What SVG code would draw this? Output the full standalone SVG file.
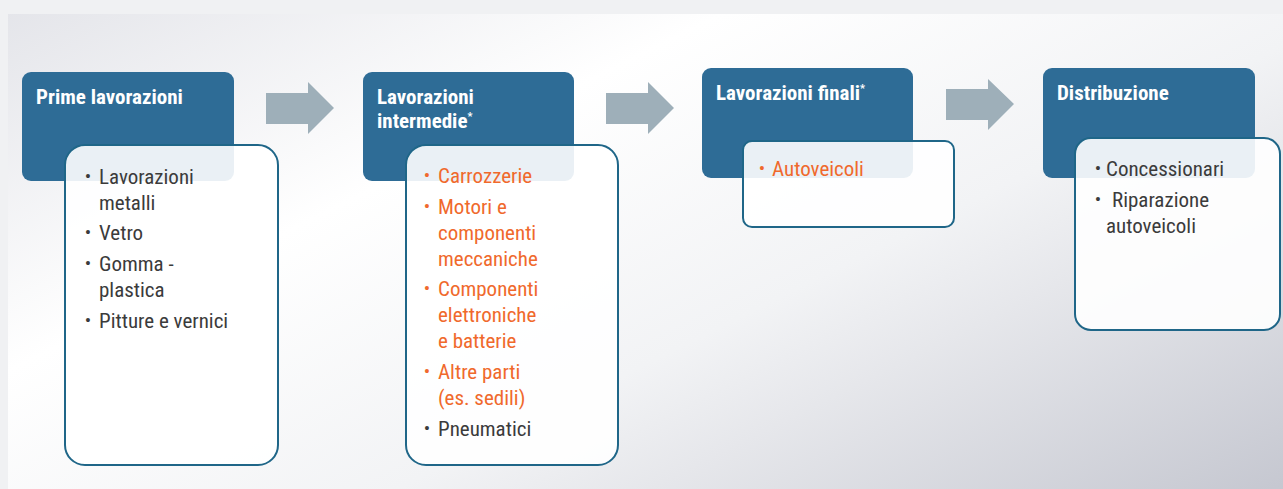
<svg xmlns="http://www.w3.org/2000/svg" width="1283" height="489" viewBox="0 0 1283 489">
<defs>
<linearGradient id="bg" gradientUnits="userSpaceOnUse" x1="200" y1="-100" x2="700" y2="900">
<stop offset="0" stop-color="#e3e4e9"/>
<stop offset="0.3" stop-color="#ffffff"/>
<stop offset="0.55" stop-color="#f2f3f5"/>
<stop offset="0.65" stop-color="#e6e7eb"/>
<stop offset="0.9" stop-color="#c6c8d1"/>
<stop offset="1" stop-color="#c0c2cc"/>
</linearGradient>
<style>
.hdr{fill:#2e6c96}
.card{fill:#ffffff;fill-opacity:0.9;stroke:#1f6688;stroke-width:2}
.arr{fill:#9eafb9}
.ht{font-family:Roboto,"Liberation Sans",sans-serif;font-weight:bold;font-size:21px;fill:#ffffff;font-stretch:condensed}
.sup{font-size:11px}
.bt{font-family:Roboto,"Liberation Sans",sans-serif;font-size:21px;fill:#3b3b3b;font-stretch:condensed}
.bu{font-size:19px;text-anchor:middle}
.or{fill:#f0692c}
</style>
</defs>
<rect x="0" y="0" width="1283" height="489" fill="#f0f1f3"/>
<rect x="8" y="14" width="1275" height="475" fill="url(#bg)"/>
<g id="connectors">
<path class="arr" d="M266,93 H308 V82 L334,108 L308,134 V124 H266 Z"/>
<path class="arr" d="M606,93 H648 V82 L674,108 L648,134 V124 H606 Z"/>
<path class="arr" d="M946,89 H988 V79 L1014,104 L988,130 V120 H946 Z"/>
</g>
<g id="node1">
<rect class="hdr" x="22" y="72" width="212" height="109" rx="9"/>
<text class="ht" x="36" y="104">Prime lavorazioni</text>
<rect class="card" x="65" y="145" width="213" height="320" rx="20"/>
<text class="bt"><tspan class="bu" x="88" y="183">•</tspan><tspan x="99" y="184">Lavorazioni</tspan><tspan x="99" y="210">metalli</tspan><tspan class="bu" x="88" y="239">•</tspan><tspan x="99" y="240">Vetro</tspan><tspan class="bu" x="88" y="270">•</tspan><tspan x="99" y="271">Gomma -</tspan><tspan x="99" y="297">plastica</tspan><tspan class="bu" x="88" y="327">•</tspan><tspan x="99" y="328">Pitture e vernici</tspan></text>
</g>
<g id="node2">
<rect class="hdr" x="363" y="72" width="211" height="109" rx="9"/>
<text class="ht"><tspan x="377" y="104">Lavorazioni</tspan><tspan x="377" y="128">intermedie</tspan><tspan class="sup" dy="-8">*</tspan></text>
<rect class="card" x="406" y="145" width="212" height="320" rx="20"/>
<text class="bt or"><tspan class="bu" x="427" y="182">•</tspan><tspan x="438" y="183">Carrozzerie</tspan><tspan class="bu" x="427" y="213">•</tspan><tspan x="438" y="214">Motori e</tspan><tspan x="438" y="240">componenti</tspan><tspan x="438" y="266">meccaniche</tspan><tspan class="bu" x="427" y="295">•</tspan><tspan x="438" y="296">Componenti</tspan><tspan x="438" y="322">elettroniche</tspan><tspan x="438" y="348">e batterie</tspan><tspan class="bu" x="427" y="378">•</tspan><tspan x="438" y="379">Altre parti</tspan><tspan x="438" y="405">(es. sedili)</tspan></text>
<text class="bt"><tspan class="bu" x="427" y="435">•</tspan><tspan x="438" y="436">Pneumatici</tspan></text>
</g>
<g id="node3">
<rect class="hdr" x="702" y="68" width="211" height="110" rx="9"/>
<text class="ht"><tspan x="716" y="100">Lavorazioni finali</tspan><tspan class="sup" dy="-8">*</tspan></text>
<rect class="card" x="743" y="141" width="211" height="86" rx="9"/>
<text class="bt or"><tspan class="bu" x="762" y="175">•</tspan><tspan x="772" y="176">Autoveicoli</tspan></text>
</g>
<g id="node4">
<rect class="hdr" x="1043" y="68" width="212" height="110" rx="9"/>
<text class="ht" x="1057" y="100">Distribuzione</text>
<rect class="card" x="1075" y="138" width="205" height="192" rx="16"/>
<text class="bt"><tspan class="bu" x="1098" y="175">•</tspan><tspan x="1106" y="176">Concessionari</tspan><tspan class="bu" x="1098" y="206">•</tspan><tspan x="1112" y="207">Riparazione</tspan><tspan x="1106" y="233">autoveicoli</tspan></text>
</g>
</svg>
